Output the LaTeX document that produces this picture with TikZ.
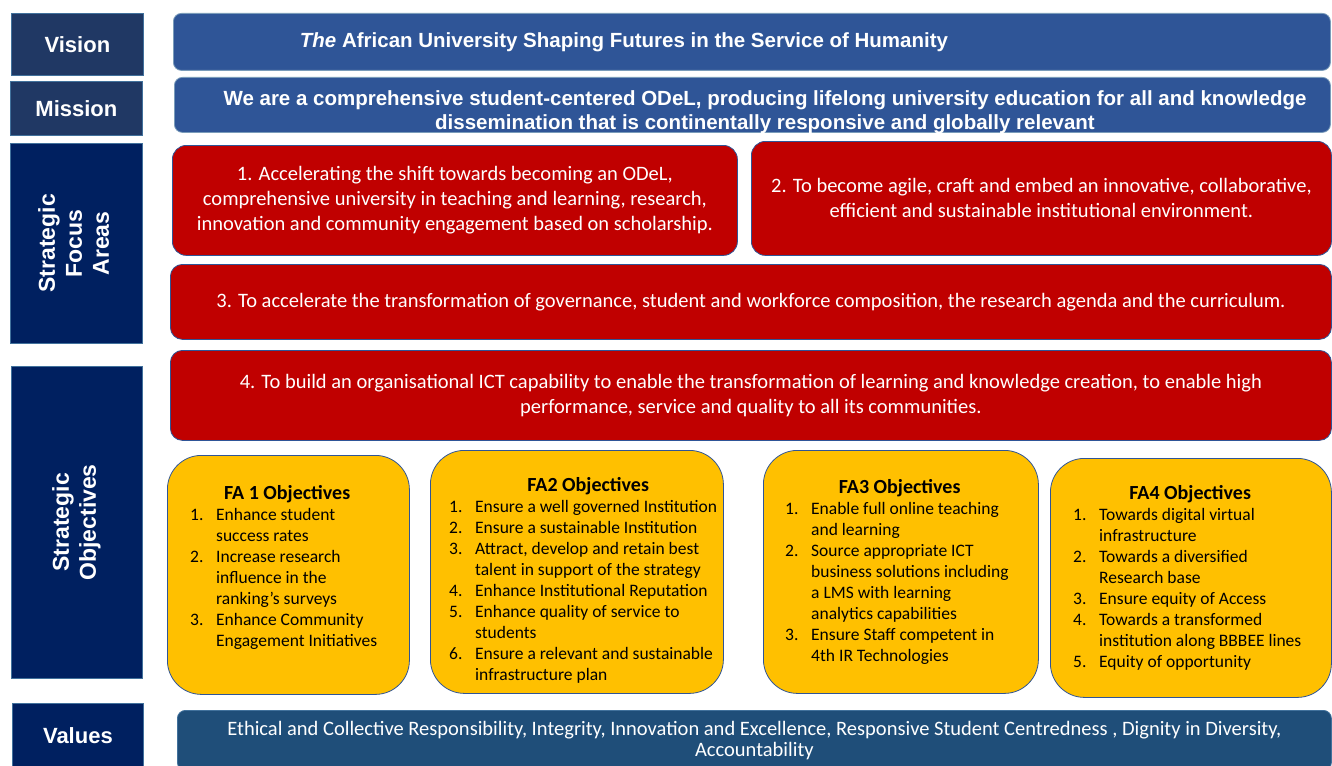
\documentclass[tikz,border=0pt]{standalone}
\usepackage{fontspec}
\setmainfont{Carlito}
\newfontfamily\headfont{Liberation Sans}
\usepackage{tikz}

\definecolor{hdslate}{HTML}{203864}
\definecolor{hdnavy}{HTML}{002060}
\definecolor{barblue}{HTML}{2F5597}
\definecolor{valblue}{HTML}{1F4E79}
\definecolor{farred}{HTML}{C00000}
\definecolor{objyellow}{HTML}{FFC000}
\definecolor{rimblue}{HTML}{41719C}

% one numbered objective line (number, text)
\newcommand{\oi}[2]{\makebox[26pt][l]{#1}\mbox{#2}}
\newcommand{\otitle}[1]{\makebox[\hsize][c]{\bfseries\fontsize{20}{22}\selectfont #1}}

\begin{document}
\begin{tikzpicture}[
  x=1pt, y=-1pt,
  hd/.style={
    rectangle, anchor=north west, inner sep=0pt, draw=rimblue,
    line width=0.8pt, text=white, align=center,
    font=\headfont\bfseries\fontsize{22}{26}\selectfont
  },
  hdA/.style={hd, fill=hdslate},
  hdB/.style={hd, fill=hdnavy},
  hdrot/.style={hdB, font=\headfont\bfseries\fontsize{23}{27}\selectfont},
  bar/.style={
    rectangle, rounded corners=8pt, anchor=north west, inner sep=0pt,
    fill=barblue, draw=rimblue!70!white, line width=0.8pt
  },
  bartext/.style={
    anchor=base, inner sep=0pt, text=white, align=center,
    font=\headfont\bfseries\fontsize{20.5}{24}\selectfont
  },
  fa/.style={
    rectangle, rounded corners=14pt, anchor=north west, inner sep=0pt,
    fill=farred, draw=barblue, line width=0.8pt, text=white, align=center,
    font=\fontsize{20.5}{25}\selectfont
  },
  obj/.style={
    rectangle, rounded corners=34pt, anchor=north west, inner sep=0pt,
    fill=objyellow, draw=barblue, line width=0.8pt
  },
  objtext/.style={
    anchor=base west, inner sep=0pt, align=flush left, text width=#1,
    font=\fontsize{17.5}{21}\selectfont
  },
  valbar/.style={
    bar, fill=valblue, draw=rimblue, text=white, align=center,
    font=\fontsize{20.5}{21}\selectfont
  },
]
\useasboundingbox (0,0) rectangle (1332,765);

%% Row headers
\node[hdA, minimum width=132pt, minimum height=62pt]  (HVIS) at (11,13)  {Vision};
\node[hdA, minimum width=132pt, minimum height=54pt]  (HMIS) at (10,81)  {Mission};
\node[hdrot, minimum width=132pt, minimum height=200pt] (HSFA) at (10,143)
  {\rotatebox{90}{\begin{tabular}{@{}c@{}}Strategic\\Focus\\Areas\end{tabular}}};
\node[hdrot, minimum width=131pt, minimum height=312pt] (HSO)  at (11,366)
  {\rotatebox{90}{\begin{tabular}{@{}c@{}}Strategic\\Objectives\end{tabular}}};
\node[hdB, minimum width=131pt, minimum height=64pt]  (HVAL) at (12,703) {Values};

%% Vision and mission
\node[bar, minimum width=1157pt, minimum height=57pt] (VIS) at (173,13) {};
\node[bartext] (VISt) at (624,48)
  {\textit{The} African University Shaping Futures in the Service of Humanity};
\node[bar, minimum width=1156pt, minimum height=55pt] (MIS) at (174,77) {};
\node[bartext] (MISt) at (765,129)
  {We are a comprehensive student-centered ODeL, producing lifelong university education for all and knowledge\\
   dissemination that is continentally responsive and globally relevant};

%% Focus areas
\node[fa, minimum width=565pt, minimum height=110pt] (FA1) at (172,145)
  {1. Accelerating the shift towards becoming an ODeL,\\
   comprehensive university in teaching and learning, research,\\
   innovation and community engagement based on scholarship.};
\node[fa, minimum width=580pt, minimum height=114pt] (FA2) at (751,141)
  {2. To become agile, craft and embed an innovative, collaborative,\\
   efficient and sustainable institutional environment.};
\node[fa, rounded corners=12pt, minimum width=1161pt, minimum height=75pt] (FA3) at (170,264)
  {3. To accelerate the transformation of governance, student and workforce composition, the research agenda and the curriculum.};
\node[fa, rounded corners=12pt, minimum width=1161pt, minimum height=90pt] (FA4) at (170,350)
  {4. To build an organisational ICT capability to enable the transformation of learning and knowledge creation, to enable high\\
   performance, service and quality to all its communities.};

%% Objectives
\node[obj, minimum width=242pt, minimum height=239pt] (OB1) at (167,455) {};
\node[obj, minimum width=293pt, minimum height=243pt] (OB2) at (430,450) {};
\node[obj, minimum width=275pt, minimum height=243pt] (OB3) at (763,450) {};
\node[obj, minimum width=281pt, minimum height=239pt] (OB4) at (1050,458) {};

\node[objtext=194pt] (OB1t) at (190,499) {\otitle{FA 1 Objectives}\\
  \oi{1.}{Enhance student}\\ \oi{}{success rates}\\
  \oi{2.}{Increase research}\\ \oi{}{influence in the}\\ \oi{}{ranking’s surveys}\\
  \oi{3.}{Enhance Community}\\ \oi{}{Engagement Initiatives}};
\node[objtext=278pt] (OB2t) at (449,491) {\otitle{FA2 Objectives}\\
  \oi{1.}{Ensure a well governed Institution}\\
  \oi{2.}{Ensure a sustainable Institution}\\
  \oi{3.}{Attract, develop and retain best}\\ \oi{}{talent in support of the strategy}\\
  \oi{4.}{Enhance Institutional Reputation}\\
  \oi{5.}{Enhance quality of service to}\\ \oi{}{students}\\
  \oi{6.}{Ensure a relevant and sustainable}\\ \oi{}{infrastructure plan}};
\node[objtext=229pt] (OB3t) at (785,493) {\otitle{FA3 Objectives}\\
  \oi{1.}{Enable full online teaching}\\ \oi{}{and learning}\\
  \oi{2.}{Source appropriate ICT}\\ \oi{}{business solutions including}\\
  \oi{}{a LMS with learning}\\ \oi{}{analytics capabilities}\\
  \oi{3.}{Ensure Staff competent in}\\ \oi{}{4th IR Technologies}};
\node[objtext=234pt] (OB4t) at (1073,499) {\otitle{FA4 Objectives}\\
  \oi{1.}{Towards digital virtual}\\ \oi{}{infrastructure}\\
  \oi{2.}{Towards a diversified}\\ \oi{}{Research base}\\
  \oi{3.}{Ensure equity of Access}\\
  \oi{4.}{Towards a transformed}\\ \oi{}{institution along BBBEE lines}\\
  \oi{5.}{Equity of opportunity}};

%% Values
\node[valbar, minimum width=1154pt, minimum height=60pt] (VAL) at (177,710)
  {Ethical and Collective Responsibility, Integrity, Innovation and Excellence, Responsive Student Centredness , Dignity in Diversity,\\
   Accountability};
\end{tikzpicture}
\end{document}
